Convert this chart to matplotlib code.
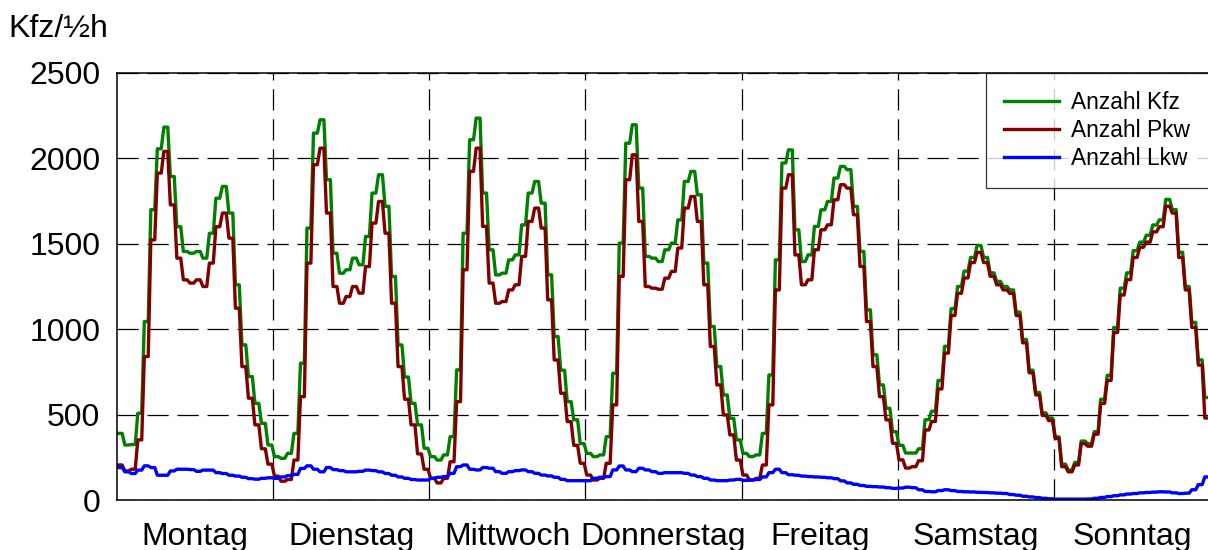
import numpy as np
import matplotlib
matplotlib.use("Agg")
import matplotlib.pyplot as plt

plt.rcParams['font.family'] = ['Liberation Sans', 'DejaVu Sans']

days = ['Montag', 'Dienstag', 'Mittwoch', 'Donnerstag', 'Freitag', 'Samstag', 'Sonntag']
yticks = [0, 500, 1000, 1500, 2000, 2500]

# hourly traffic volumes (vehicles per half hour), one row per weekday
anzahl_kfz = [
    390, 322, 325, 508, 1045, 1700, 2056, 2183, 1894, 1600, 1455, 1445, 1455, 1416, 1562, 1767, 1836, 1680, 1260, 908, 723, 566, 449, 322,
    254, 244, 273, 390, 801, 1592, 2148, 2226, 1875, 1445, 1328, 1348, 1416, 1377, 1543, 1797, 1904, 1719, 1309, 908, 720, 566, 440, 303,
    254, 234, 264, 371, 762, 1562, 2109, 2236, 1797, 1465, 1318, 1328, 1406, 1435, 1611, 1797, 1865, 1738, 1318, 957, 760, 576, 470, 330,
    273, 254, 264, 371, 742, 1504, 2089, 2197, 1826, 1426, 1416, 1396, 1465, 1504, 1640, 1865, 1924, 1787, 1387, 1016, 781, 615, 478, 352,
    273, 254, 264, 390, 732, 1406, 1973, 2050, 1582, 1396, 1435, 1602, 1699, 1748, 1885, 1953, 1934, 1719, 1455, 1113, 850, 674, 537, 400,
    320, 275, 275, 300, 470, 520, 700, 900, 1120, 1250, 1340, 1420, 1490, 1420, 1330, 1280, 1250, 1230, 1100, 940, 760, 630, 510, 480,
    370, 210, 175, 220, 345, 330, 400, 590, 730, 1010, 1240, 1330, 1460, 1510, 1550, 1610, 1640, 1760, 1700, 1450, 1250, 1040, 820, 600,
]
anzahl_pkw = [
    205, 170, 180, 352, 840, 1523, 1914, 2041, 1728, 1416, 1289, 1270, 1289, 1250, 1387, 1600, 1680, 1533, 1123, 781, 596, 440, 300, 210,
    140, 110, 120, 234, 605, 1387, 1963, 2060, 1680, 1250, 1152, 1191, 1250, 1211, 1367, 1621, 1748, 1562, 1152, 781, 590, 440, 270, 180,
    127, 100, 127, 224, 576, 1348, 1924, 2060, 1602, 1270, 1152, 1162, 1230, 1260, 1426, 1631, 1709, 1592, 1172, 820, 625, 459, 320, 215,
    146, 117, 127, 215, 557, 1309, 1875, 2021, 1631, 1250, 1240, 1234, 1299, 1338, 1475, 1709, 1777, 1631, 1260, 899, 674, 498, 381, 234,
    146, 117, 127, 205, 557, 1230, 1826, 1904, 1435, 1260, 1289, 1465, 1582, 1611, 1758, 1846, 1826, 1670, 1367, 1045, 781, 605, 469, 332,
    235, 187, 195, 230, 410, 460, 650, 860, 1080, 1210, 1300, 1390, 1450, 1390, 1310, 1260, 1230, 1210, 1080, 920, 745, 615, 495, 465,
    360, 195, 165, 205, 330, 315, 385, 565, 700, 980, 1200, 1290, 1420, 1480, 1510, 1570, 1600, 1720, 1680, 1420, 1230, 1010, 790, 480,
]
anzahl_lkw = [
    190, 165, 155, 175, 200, 190, 145, 145, 170, 180, 180, 178, 168, 175, 175, 160, 155, 145, 140, 133, 125, 122, 127, 130,
    127, 135, 143, 150, 185, 200, 180, 165, 190, 178, 172, 165, 165, 168, 175, 172, 165, 155, 145, 135, 127, 120, 117, 117,
    127, 133, 137, 156, 195, 205, 180, 176, 190, 186, 166, 156, 166, 172, 176, 166, 156, 146, 141, 133, 121, 113, 113, 113,
    113, 127, 133, 137, 176, 199, 176, 166, 186, 176, 166, 156, 160, 160, 160, 156, 146, 137, 127, 117, 113, 113, 117, 121,
    115, 117, 120, 135, 160, 180, 160, 148, 145, 140, 137, 135, 133, 130, 125, 112, 100, 92, 85, 80, 78, 76, 72, 68,
    70, 75, 72, 60, 50, 48, 55, 60, 55, 50, 48, 47, 45, 44, 42, 40, 38, 32, 28, 22, 18, 14, 10, 7,
    5, 5, 5, 5, 5, 6, 10, 15, 20, 25, 30, 35, 38, 42, 44, 46, 48, 47, 42, 38, 40, 60, 90, 135,
]

n_hours = len(anzahl_kfz)
# each hourly value is held for most of the hour, with a short ramp to the next
t = (np.arange(n_hours)[:, None] + np.array([0.2, 0.8])).ravel()

fig = plt.figure(figsize=(12.08, 5.5), dpi=100)
ax = fig.add_axes([117 / 1208, 50 / 550, 1093 / 1208, 427 / 550])

ax.plot(t, np.repeat(anzahl_kfz, 2), color='#008000', lw=2.4, label='Anzahl Kfz')
ax.plot(t, np.repeat(anzahl_pkw, 2), color='#800000', lw=2.4, label='Anzahl Pkw')
ax.plot(t, np.repeat(anzahl_lkw, 2), color='#0000ff', lw=2.4, label='Anzahl Lkw')

ax.set_xlim(0, 24 * len(days))
ax.set_ylim(yticks[0], yticks[-1])

# day boundaries as major ticks (grid only), day names centred as minor ticks
ax.set_xticks(np.arange(24, 24 * len(days), 24))
ax.set_xticklabels([])
ax.set_xticks(np.arange(12, 24 * len(days), 24), minor=True)
ax.set_xticklabels(days, minor=True, fontsize=23)
ax.tick_params(axis='x', which='both', length=0)
ax.tick_params(axis='x', which='minor', pad=16)

ax.set_yticks(yticks)
ax.set_yticklabels([str(v) for v in yticks], fontsize=23)
ax.tick_params(axis='y', length=0, pad=12)

ax.grid(True, which='major', color='black', lw=0.9, ls=(0, (17, 7)))

for side in ['left', 'top', 'bottom']:
    ax.spines[side].set_linewidth(1.1)
ax.spines['right'].set_visible(False)

fig.text(0.007, 513 / 550, 'Kfz/½h', fontsize=23, ha='left', va='baseline')

leg = ax.legend(loc='upper left', bbox_to_anchor=(0.795, 0.0, 0.23, 1.0), mode='expand',
                borderaxespad=0, fontsize=16.4, frameon=True, fancybox=False,
                handlelength=2.4, handletextpad=0.55, labelspacing=0.22, borderpad=0.8)
leg.get_frame().set_edgecolor('black')
leg.get_frame().set_linewidth(0.9)

fig.savefig('out.png', dpi=100)
